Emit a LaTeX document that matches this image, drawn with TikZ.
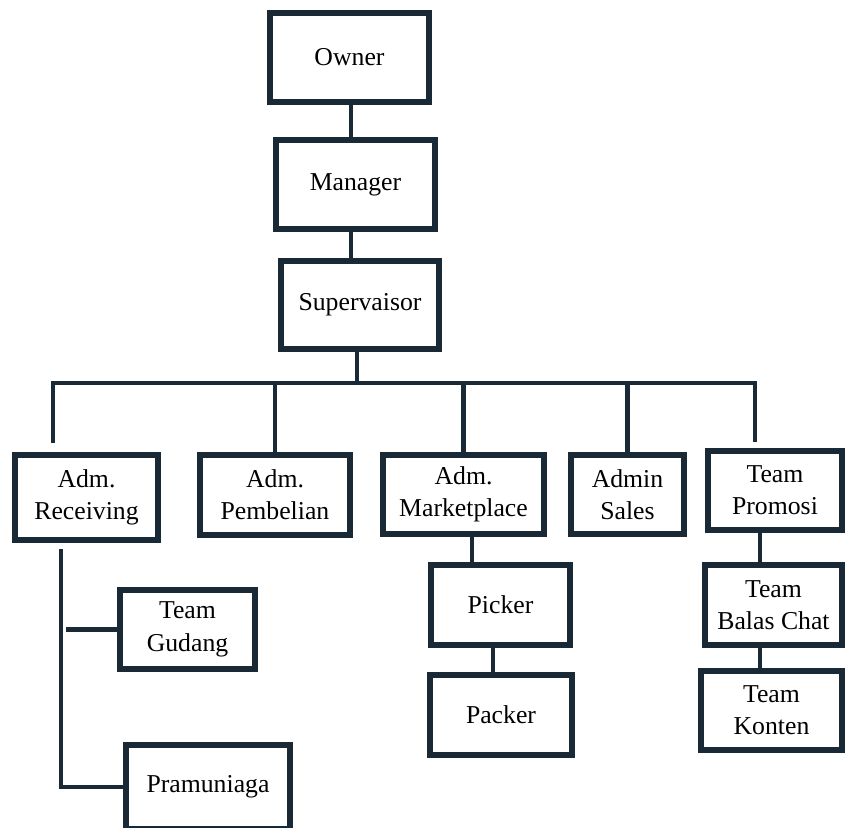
\documentclass[tikz,border=0pt]{standalone}
\usepackage{fontspec}
\setmainfont{Liberation Serif}
\usepackage{xcolor}
\usepackage{tikz}

\definecolor{navy}{HTML}{1A2936}

\begin{document}
\begin{tikzpicture}[x=0.025cm, y=-0.025cm,
    box/.style 2 args={draw=navy, line width=4pt, fill=white, minimum width=#1*0.025cm,
        minimum height=#2*0.025cm, inner sep=0pt, align=center,
        font=\fontsize{18.3}{23}\selectfont},
    link/.style={draw=navy, line width=3.2pt}]
    \useasboundingbox (0,0) rectangle (846,827);
    \clip (0,0) rectangle (846,827);
    \fill[white] (0,0) rectangle (846,827);

    % pimpinan
    \node[box={159}{89}] (owner) at (349.5,57.5) {Owner};
    \node[box={159}{89}] (manager) at (355.5,184.5) {Manager};
    \node[box={158}{88}] (super) at (360,305) {Supervaisor};

    % bagian admin
    \node[box={143}{85}] (recv) at (86.5,497.5) {Adm.\\Receiving};
    \node[box={150}{80}] (pemb) at (275,495) {Adm.\\Pembelian};
    \node[box={161}{79}] (market) at (463.5,494.5) {Adm.\\Marketplace};
    \node[box={113}{79}] (sales) at (627.5,494.5) {Admin\\Sales};
    \node[box={134}{79}] (promo) at (775,490.5) {Team\\Promosi};

    % bawahan
    \node[box={135}{79}] (gudang) at (187.5,629.5) {Team\\Gudang};
    \node[box={164}{84}] (pram) at (208,787) {Pramuniaga};
    \node[box={139}{80}] (picker) at (500.5,605) {Picker};
    \node[box={142}{80}] (packer) at (501,715) {Packer};
    \node[box={137}{80}] (balas) at (773.5,605) {Team\\Balas Chat};
    \node[box={141}{79}] (konten) at (771.5,710.5) {Team\\Konten};

    \coordinate (bus) at (358,383);
    \coordinate (recvTop) at (53,443);
    \coordinate (promoTop) at (755,442);
    \coordinate (recvLine) at (61,549);
    \coordinate (recvEnd) at (61,787);

    \draw[link] (351,0 |- owner.south) -- (351,0 |- manager.north);
    \draw[link] (351,0 |- manager.south) -- (351,0 |- super.north);
    \draw[link] (357,0 |- super.south) -- (357,0 |- bus);
    \draw[link] (recvTop) |- (bus) -| (promoTop);  % garis cabang
    \foreach \n in {pemb, market, sales}
        \draw[link] (\n.north) -- (\n.north |- bus);

    \draw[link] (recvLine) -- (recvEnd) -- (pram.west);
    \draw[link] (66,0 |- gudang.west) -- (gudang.west);
    \draw[link] (472,0 |- market.south) -- (472,0 |- picker.north);
    \draw[link] (493,0 |- picker.south) -- (493,0 |- packer.north);
    \draw[link] (760,0 |- promo.south) -- (760,0 |- balas.north);
    \draw[link] (760,0 |- balas.south) -- (760,0 |- konten.north);
\end{tikzpicture}
\end{document}
